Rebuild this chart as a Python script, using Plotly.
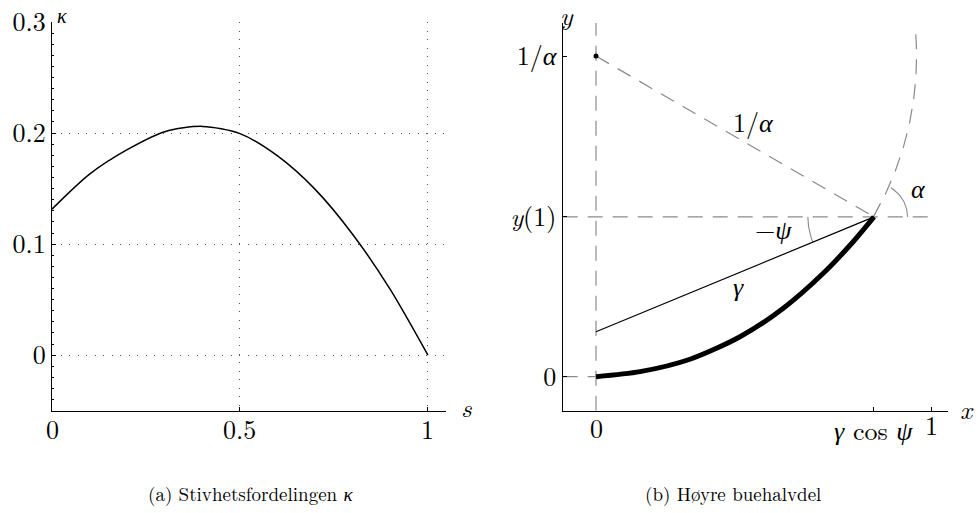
import numpy as np
import plotly.graph_objects as go

# ---------------- data ----------------
# (a) stiffness distribution kappa(s)
s_vals = [0.0, 0.1, 0.2, 0.3, 0.4, 0.5, 0.6, 0.7, 0.8, 0.9, 1.0]
kappa_vals = [0.1315, 0.163, 0.1850, 0.2012, 0.2060, 0.1995, 0.1794, 0.1493, 0.1087, 0.059, 0.0]
a_xticks = [0, 0.5, 1]
a_xticktext = ["0", "0.5", "1"]
a_yticks = [0, 0.1, 0.2, 0.3]
a_yticktext = ["0", "0.1", "0.2", "0.3"]

# (b) right half of the arch
arch_x = [0.0, 0.131, 0.28, 0.429, 0.558, 0.677, 0.766, 0.828]
arch_y = [0.0, 0.015, 0.052, 0.119, 0.204, 0.308, 0.402, 0.476]
chord_x = [0.0, 0.828]
chord_y = [0.134, 0.476]
end_x = 0.828          # gamma cos psi
y_one = 0.476          # y(1)
inv_alpha = 0.955      # 1/alpha (circle centre height and radius)
alpha_deg = 60.0
psi_deg = 22.4
b_xticks = [0.0, end_x, 1.0]
b_xticktext = ["0", "<i>γ</i> cos <i>ψ</i>", "1"]
b_yticks = [0.0, y_one, inv_alpha]
b_yticktext = ["0", "<i>y</i>(1)", "1/<i>α</i>"]

FONT = "Latin Modern Roman, CMU Serif, Liberation Serif, serif"
GRAY = "#8a8a8a"
DASH = "15px,10px"

fig = go.Figure()

# ---- (a) ----
fig.add_trace(go.Scatter(x=s_vals, y=kappa_vals, mode="lines", line=dict(color="black", width=1.5, shape="spline", smoothing=0.8),
                         xaxis="x", yaxis="y", showlegend=False, hoverinfo="skip"))

# ---- (b) ----
xmin_b, xmax_b = -0.0992, 1.0494
ymin_b, ymax_b = -0.1013, 1.0536

def dline(x, y, color=GRAY, width=1.2, dash=DASH):
    fig.add_trace(go.Scatter(x=x, y=y, mode="lines", line=dict(color=color, width=width, dash=dash),
                             xaxis="x2", yaxis="y2", showlegend=False, hoverinfo="skip"))

dline([0, 0], [ymin_b, ymax_b])
dline([xmin_b, 1.0], [y_one, y_one])
dline([xmin_b, 0.0], [0, 0])
dline([0, end_x], [inv_alpha, y_one])
start_ang = np.arctan2(y_one - inv_alpha, end_x)
th = np.linspace(start_ang, np.deg2rad(4.5), 80)
dline(inv_alpha * np.cos(th), inv_alpha + inv_alpha * np.sin(th))
th_a = np.linspace(0, np.deg2rad(alpha_deg), 40)
dline(end_x + 0.1 * np.cos(th_a), y_one + 0.1 * np.sin(th_a), width=1.1, dash="solid")
th_p = np.linspace(np.pi, np.pi + np.deg2rad(psi_deg), 40)
dline(end_x + 0.197 * np.cos(th_p), y_one + 0.197 * np.sin(th_p), width=1.1, dash="solid")

dline(chord_x, chord_y, color="black", width=1.2, dash="solid")
fig.add_trace(go.Scatter(x=arch_x, y=arch_y, mode="lines", line=dict(color="black", width=5, shape="spline", smoothing=0.8),
                         xaxis="x2", yaxis="y2", showlegend=False, hoverinfo="skip"))
fig.add_trace(go.Scatter(x=[0], y=[inv_alpha], mode="markers", marker=dict(color="black", size=5),
                         xaxis="x2", yaxis="y2", showlegend=False, hoverinfo="skip"))

tickfont = dict(family=FONT, size=26, color="black")
axis_common = dict(showline=True, linecolor="black", linewidth=1.3, ticks="inside", ticklen=4, tickcolor="black",
                   tickfont=tickfont, zeroline=False, fixedrange=True, mirror=False, automargin=False)

fig.update_layout(
    width=978, height=513, margin=dict(l=0, r=0, t=0, b=0, autoexpand=False),
    paper_bgcolor="white", plot_bgcolor="white",
    xaxis=dict(domain=[52/978, 446/978], range=[0, 1.048], tickvals=a_xticks, showticklabels=False,
               showgrid=True, gridcolor="#555", griddash="1px,7.5px", gridwidth=1.3, anchor="y", **axis_common),
    yaxis=dict(domain=[1-410.7/513, 1-22/513], range=[-0.05, 0.3], tickvals=a_yticks, ticktext=a_yticktext,
               showgrid=True, gridcolor="#555", griddash="1px,7.5px", gridwidth=1.3, anchor="x",
               minor=dict(tick0=0, dtick=0.01, ticks="inside", ticklen=2, tickcolor="black", showgrid=False),
               **axis_common),
    xaxis2=dict(domain=[562.7/978, 948.3/978], range=[xmin_b, xmax_b], tickvals=b_xticks[1:], showticklabels=False,
                showgrid=False, anchor="y2", **axis_common),
    yaxis2=dict(domain=[1-410.7/513, 1-23/513], range=[ymin_b, ymax_b], tickvals=b_yticks, ticktext=b_yticktext,
                showgrid=False, anchor="x2", **axis_common),
    font=dict(family=FONT, color="black"),
)

def ann(text, x, y, xref, yref, size=26, xanchor="center", yanchor="middle"):
    fig.add_annotation(text=text, x=x, y=y, xref=xref, yref=yref, showarrow=False,
                       font=dict(family=FONT, size=size, color="black"), xanchor=xanchor, yanchor=yanchor)

def px(xp): return xp / 978
def py(yp): return 1 - yp / 513

# x tick labels placed on the axes' own scales
for v, t in zip(a_xticks, a_xticktext):
    ann(t, v, py(428), "x", "paper")
for v, t, yp in zip(b_xticks, b_xticktext, [427, 429, 424]):
    ann(t, v, py(yp), "x2", "paper")

ann("<i>κ</i>", px(62), py(15), "paper", "paper", size=20)
ann("<i>s</i>", px(466), py(406), "paper", "paper")
ann("<i>y</i>", px(567), py(15), "paper", "paper")
ann("<i>x</i>", px(967), py(408), "paper", "paper")

ann("1/<i>α</i>", 0.47, 0.76, "x2", "y2")
ann("<i>α</i>", 0.96, 0.565, "x2", "y2")
ann("−<i>ψ</i>", 0.53, 0.44, "x2", "y2")
ann("<i>γ</i>", 0.425, 0.272, "x2", "y2")

ann("(a) Stivhetsfordelingen <i>κ</i>", px(250), py(493), "paper", "paper", size=19)
ann("(b) Høyre buehalvdel", px(733), py(493), "paper", "paper", size=19)

fig.write_html("out.html")
